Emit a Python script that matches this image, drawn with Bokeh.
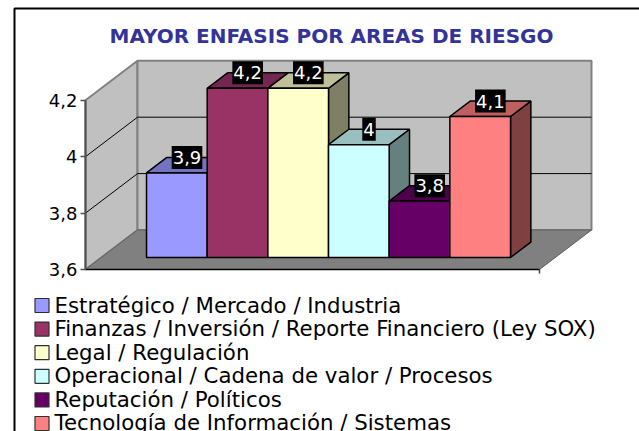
from bokeh.plotting import figure
from bokeh.models import (LinearAxis, FixedTicker, Range1d, ColumnDataSource, Label)
from bokeh.core.properties import value
from bokeh.embed import file_html
from bokeh.resources import INLINE

categories = ["Estratégico / Mercado / Industria",
              "Finanzas / Inversión / Reporte Financiero (Ley SOX)",
              "Legal / Regulación",
              "Operacional / Cadena de valor / Procesos",
              "Reputación / Políticos",
              "Tecnología de Información / Sistemas"]
values = [3.9, 4.2, 4.2, 4.0, 3.8, 4.1]
labels = ["3,9", "4,2", "4,2", "4", "3,8", "4,1"]
front = ["#9999FF", "#993366", "#FFFFCC", "#CCFFFF", "#660066", "#FF8080"]
top = ["#7373BF", "#732650", "#BFBF99", "#99BFBF", "#4C004C", "#BF6060"]
side = ["#4D4D80", "#4D1A33", "#7F7F66", "#667F7F", "#330033", "#7F4040"]
ticks = [3.6, 3.8, 4.0, 4.2]
tick_labels = {3.6: "3,6", 3.8: "3,8", 4.0: "4", 4.2: "4,2"}
title = "MAYOR ENFASIS POR AREAS DE RIESGO"

FONT = "DejaVu Sans"
W, H = 639, 431
PXU = 282.0    # px per value unit
SLOT = 60.67   # px per category
X0 = 130.2     # px of category 0 left edge at depth 0
Y0 = 269.0     # px of the axis base
BASE = 3.6
DX, DY = 52.0 / SLOT, 39.5 / PXU      # full depth in data units
N_RIGHT = (539.0 - X0) / SLOT
N_LEFT = (85.0 - X0) / SLOT
Z0, Z1 = 0.304, 0.695                 # bar depth bounds


def proj(x, v, z):
    return x + DX * z, v + DY * z


def px_x(px):
    return (px - X0) / SLOT


def px_y(py):
    return BASE + (Y0 - py) / PXU


p = figure(width=W, height=H, output_backend="svg", toolbar_location=None,
           x_range=Range1d(px_x(0), px_x(W)),
           y_range=Range1d(px_y(H), px_y(0)),
           x_axis_location=None, y_axis_location=None,
           min_border_left=0, min_border_right=0, min_border_top=0, min_border_bottom=0)
p.grid.visible = False
p.outline_line_color = None
p.background_fill_color = "white"
p.border_fill_color = "white"

# chart-area border
p.line([px_x(14), px_x(14), px_x(W + 5)], [px_y(H + 5), px_y(8), px_y(8)],
       line_color="black", line_width=2)

# walls and floor
vtop = 4.2
xl, xr = N_LEFT, N_RIGHT
pts = lambda seq: ([proj(*s)[0] for s in seq], [proj(*s)[1] for s in seq])
lw_x, lw_y = pts([(xl, BASE, 0), (xl, BASE, 1), (xl, vtop, 1), (xl, vtop, 0)])
bw_x, bw_y = pts([(xl, BASE, 1), (xr, BASE, 1), (xr, vtop, 1), (xl, vtop, 1)])
fl_x, fl_y = pts([(xl, BASE, 0), (xr, BASE, 0), (xr, BASE, 1), (xl, BASE, 1)])
p.patch(lw_x, lw_y, fill_color="#C0C0C0", line_color="#808080", line_width=2)
p.patch(bw_x, bw_y, fill_color="#C0C0C0", line_color="#808080", line_width=2)
p.patch(fl_x, fl_y, fill_color="#808080", line_color="#606060", line_width=1)

# gridlines
for t in ticks[1:3]:
    gx, gy = pts([(xl, t, 0), (xl, t, 1), (xr, t, 1)])
    p.line(gx, gy, line_color="black", line_width=1)
# floor front edge and end tick
ex, ey = pts([(xl, BASE, 0), (xr, BASE, 0)])
p.line(ex, ey, line_color="black", line_width=1.5)
p.segment(xr, BASE, xr, BASE - 4 / PXU, line_color="#404040", line_width=1.5)

# bars
for i, v in enumerate(values):
    x0, x1 = i, i + 1
    sx, sy = pts([(x1, BASE, Z0), (x1, BASE, Z1), (x1, v, Z1), (x1, v, Z0)])
    tx, ty = pts([(x0, v, Z0), (x1, v, Z0), (x1, v, Z1), (x0, v, Z1)])
    fx, fy = pts([(x0, BASE, Z0), (x1, BASE, Z0), (x1, v, Z0), (x0, v, Z0)])
    p.patch(sx, sy, fill_color=side[i], line_color="black", line_width=1.5)
    p.patch(tx, ty, fill_color=top[i], line_color="black", line_width=1.5)
    p.patch(fx, fy, fill_color=front[i], line_color="black", line_width=1.5)

# data labels
lx = [proj(i + 0.5, v, (Z0 + Z1) / 2)[0] for i, v in enumerate(values)]
ly = [proj(i + 0.5, v, Z1)[1] for i, v in enumerate(values)]
src = ColumnDataSource(dict(x=lx, y=ly, t=labels))
p.text("x", "y", text="t", source=src, text_color="white", text_align="center",
       text_baseline="middle", text_font=value(FONT), text_font_size="18px",
       background_fill_color="black", padding=(1, 5))

# value axis
ax = LinearAxis(ticker=FixedTicker(ticks=ticks), major_label_overrides=tick_labels,
                fixed_location=N_LEFT,
                axis_line_color="#505050", axis_line_width=2,
                major_tick_line_color="#505050", major_tick_line_width=1.5,
                major_tick_out=5, major_tick_in=0, minor_tick_line_color=None,
                major_label_text_font=FONT, major_label_text_font_size="18px",
                major_label_text_color="black", major_label_standoff=3)
ax.bounds = (3.6, 4.2)
p.add_layout(ax, "left")

# legend rows
rows = range(len(categories))
swatch_mid = [305 + 23.6 * i for i in rows]
text_base = [305 + 23.4 * i for i in rows]
p.quad(left=[px_x(34.5)] * 6, right=[px_x(48.5)] * 6,
       top=[px_y(m - 7) for m in swatch_mid], bottom=[px_y(m + 7) for m in swatch_mid],
       fill_color=front, line_color="#303030", line_width=1.2)
p.text(x=[px_x(54)] * 6, y=[px_y(b) for b in text_base], text=categories,
       text_color="black", text_align="left", text_baseline="alphabetic",
       text_font=value(FONT), text_font_size="21.3px")

# title text
p.add_layout(Label(x=331, y=H - 35, x_units="screen", y_units="screen", text=title,
                   text_color="#333399", text_font=FONT, text_font_size="20px",
                   text_font_style="bold", text_align="center", text_baseline="middle"))

open("out.html", "w").write(file_html(p, INLINE))
